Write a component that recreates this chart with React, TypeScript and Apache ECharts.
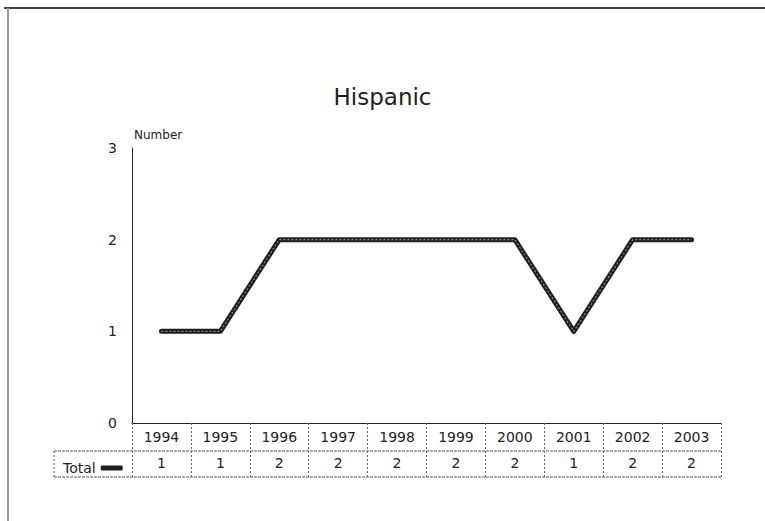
import React, { useEffect, useRef } from "react";
import * as echarts from "echarts";

const title = "Hispanic";
const years = ["1994", "1995", "1996", "1997", "1998", "1999", "2000", "2001", "2002", "2003"];
const totals = [1, 1, 2, 2, 2, 2, 2, 1, 2, 2];
const seriesName = "Total";
const yName = "Number";

const W = 765;
const H = 521;
const GL = 132;
const GR = 721;
const GT = 148;
const GB = 423;
const ROW1 = 451;
const ROW2 = 477;
const TOTAL_LEFT = 54;
const FONT = "'DejaVu Sans', 'Open Sans', sans-serif";

export default function App() {
  const ref = useRef<HTMLDivElement>(null);
  useEffect(() => {
    document.body.style.margin = "0";
    const chart = echarts.init(ref.current!, null, { renderer: "svg" });
    const lineC = "#444";
    chart.setOption({
      animation: false,
      backgroundColor: "#fff",
      textStyle: { fontFamily: FONT, color: "#222" },
      title: {
        text: title,
        left: "center",
        top: 80,
        textStyle: { fontSize: 23, fontWeight: "normal", color: "#222", fontFamily: FONT },
      },
      legend: {
        data: [seriesName],
        left: TOTAL_LEFT + 4,
        top: ROW1 + 5,
        align: "right",
        icon: "roundRect",
        itemWidth: 22,
        itemHeight: 5,
        itemGap: 4,
        textStyle: { fontSize: 14, color: "#222", fontFamily: FONT },
        selectedMode: false,
      },
      grid: { left: GL, right: W - GR, top: GT, bottom: H - GB, containLabel: false },
      xAxis: [
        {
          type: "category",
          data: years,
          boundaryGap: true,
          position: "bottom",
          axisLine: { show: true, lineStyle: { color: "#222", width: 1 } },
          axisTick: { show: true, length: ROW2 - GB, alignWithLabel: false, lineStyle: { color: "#666", type: [2, 2] } },
          axisLabel: { margin: 7, fontSize: 14, color: "#222", fontFamily: FONT },
        },
        {
          type: "category",
          data: totals.map((v) => String(v)),
          boundaryGap: true,
          position: "bottom",
          offset: ROW1 - GB,
          axisLine: { show: false },
          axisTick: { show: false },
          axisLabel: { margin: 5, fontSize: 14, color: "#222", fontFamily: FONT },
        },
      ],
      yAxis: {
        type: "value",
        min: 0,
        max: 3,
        interval: 1,
        name: yName,
        nameLocation: "end",
        nameGap: 7,
        nameTextStyle: { align: "left", fontSize: 12, color: "#222", fontFamily: FONT, padding: [0, 0, 0, 2] },
        axisLine: { show: true, lineStyle: { color: "#222", width: 1 } },
        axisTick: { show: false },
        splitLine: { show: false },
        axisLabel: { margin: 15, fontSize: 14, color: "#222", fontFamily: FONT },
      },
      series: [
        {
          name: seriesName,
          type: "line",
          xAxisIndex: 0,
          data: totals,
          symbol: "none",
          color: "#1e1e1e",
          lineStyle: { color: "#1e1e1e", width: 5, cap: "round", join: "round" },
        },
        {
          name: seriesName + " inner",
          type: "line",
          xAxisIndex: 0,
          data: totals,
          symbol: "none",
          silent: true,
          lineStyle: { color: "#8a8a8a", width: 1.2, type: [2, 2], join: "round" },
        },
      ],
      graphic: [
        { type: "line", shape: { x1: 4, y1: 8, x2: W, y2: 8 }, style: { stroke: lineC, lineWidth: 2 } },
        { type: "line", shape: { x1: 8, y1: 8, x2: 8, y2: H }, style: { stroke: "#999", lineWidth: 2 } },
        { type: "line", shape: { x1: TOTAL_LEFT, y1: ROW1, x2: GR, y2: ROW1 }, style: { stroke: "#555", lineWidth: 1, lineDash: [3, 1] } },
        { type: "line", shape: { x1: TOTAL_LEFT, y1: ROW2, x2: GR, y2: ROW2 }, style: { stroke: "#555", lineWidth: 1, lineDash: [3, 1] } },
        { type: "line", shape: { x1: TOTAL_LEFT, y1: ROW1, x2: TOTAL_LEFT, y2: ROW2 }, style: { stroke: "#555", lineWidth: 1, lineDash: [2, 2] } },
      ],
    });
    return () => chart.dispose();
  }, []);
  return <div ref={ref} style={{ width: W, height: H }} />;
}
